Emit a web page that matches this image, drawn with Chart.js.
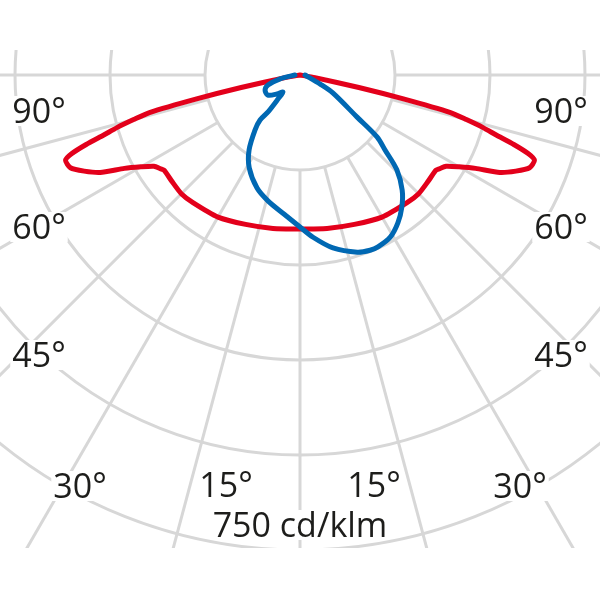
<!DOCTYPE html>
<html>
<head>
<meta charset="utf-8">
<script src="https://cdn.jsdelivr.net/npm/chart.js@4.4.1/dist/chart.umd.min.js"></script>
<style>
html, body { margin: 0; padding: 0; background: #fff; }
#wrap { width: 600px; height: 600px; }
</style>
</head>
<body>
<div id="wrap"><canvas id="polarChart" width="600" height="600"></canvas></div>
<script>
// rings and spokes of the polar grid (cd/klm, degrees from nadir)
const ringValues = [150, 300, 450, 600, 750];
const spokeAngles = [-90, -75, -60, -45, -30, -15, 0, 15, 30, 45, 60, 75, 90];

// C0-C180 plane (red), symmetric
const redAngles = [-90, -80, -78, -77, -76, -75, -74, -73, -72, -71, -70, -68, -66, -64, -62, -60, -58, -56, -55, -50, -45, -40, -30, -20, -10,
  0, 10, 20, 30, 40, 45, 50, 55, 56, 58, 60, 62, 64, 66, 68, 70, 71, 72, 73, 74, 75, 76, 77, 78, 80, 90];
const redValues = [0, 24, 95, 166, 245, 272, 300, 324, 355, 381, 394, 391, 373, 351, 314, 290, 272, 265, 262, 263, 265, 263, 259, 251, 246,
  243, 246, 251, 259, 263, 265, 263, 262, 265, 272, 290, 314, 351, 373, 391, 394, 381, 355, 324, 300, 272, 245, 166, 95, 24, 0];

// C90-C270 plane (blue)
const blueAngles = [-90, -79, -72.6, -66.8, -58, -50.4, -45, -42.5, -40.9, -41.6, -39.3, -34.2, -28.7, -20.8, -14.3, -6.6,
  0, 4.6, 10.8, 17.9, 21.8, 24.4, 29.1, 33.5, 37.7, 41.6, 45.6, 48.6, 51.2, 53.6, 61.4, 65.8, 90];
const blueValues = [8, 32, 53, 60, 60, 47, 38, 51, 77, 95, 112, 143, 167, 191, 205, 221,
  240, 257, 278, 294, 298, 298, 293, 280, 263, 243, 214, 179, 156, 112, 59, 35, 8];

const angleLabels = ['90°', '60°', '45°', '30°', '15°'];
const unitLabel = '750 cd/klm';

function toXY(angles, values) {
  return angles.map((a, i) => {
    const rad = a * Math.PI / 180;
    return { x: values[i] * Math.sin(rad), y: -values[i] * Math.cos(rad) };
  });
}

const polarGrid = {
  id: 'polarGrid',
  beforeDatasetsDraw(chart) {
    const { ctx, chartArea, scales: { x, y } } = chart;
    const cx = x.getPixelForValue(0);
    const cy = y.getPixelForValue(0);
    const k = x.getPixelForValue(1) - cx;
    ctx.save();
    ctx.beginPath();
    ctx.rect(chartArea.left, chartArea.top, chartArea.width, chartArea.height);
    ctx.clip();
    ctx.strokeStyle = '#d7d7d7';
    ctx.lineWidth = 3;
    ringValues.forEach(v => {
      ctx.beginPath();
      ctx.arc(cx, cy, v * k, 0, Math.PI * 2);
      ctx.stroke();
    });
    spokeAngles.forEach(a => {
      const rad = a * Math.PI / 180;
      const r0 = ringValues[0], r1 = 2000;
      ctx.beginPath();
      ctx.moveTo(x.getPixelForValue(r0 * Math.sin(rad)), y.getPixelForValue(-r0 * Math.cos(rad)));
      ctx.lineTo(x.getPixelForValue(r1 * Math.sin(rad)), y.getPixelForValue(-r1 * Math.cos(rad)));
      ctx.stroke();
    });
    ctx.restore();
  },
  afterDatasetsDraw(chart) {
    const { ctx, scales: { x, y } } = chart;
    const cx = x.getPixelForValue(0);
    const cy = y.getPixelForValue(0);
    // label spots: offset from the pole in px, baseline
    const spots = [[261, 48], [261, 164], [261, 292], [220, 423], [74, 422]];
    const items = [];
    angleLabels.forEach((t, i) => {
      items.push([t, cx - spots[i][0], cy + spots[i][1]]);
      items.push([t, cx + spots[i][0], cy + spots[i][1]]);
    });
    items.push([unitLabel, cx, cy + 462]);
    ctx.save();
    ctx.font = '34px "Open Sans"';
    ctx.textAlign = 'center';
    ctx.textBaseline = 'alphabetic';
    items.forEach(([t, px, py]) => {
      const w = ctx.measureText(t).width;
      ctx.fillStyle = '#fff';
      ctx.fillRect(px - w / 2 - 2, py - 27, w + 4, 30);
      ctx.fillStyle = '#1d1d1b';
      ctx.fillText(t, px, py);
    });
    ctx.restore();
  }
};

const chart = new Chart(document.getElementById('polarChart'), {
  type: 'scatter',
  data: {
    datasets: [{
      label: 'C0-C180',
      data: toXY(redAngles, redValues),
      showLine: true,
      borderColor: '#e3001b',
      borderWidth: 5,
      pointRadius: 0,
      tension: 0.2,
      borderJoinStyle: 'round',
      borderCapStyle: 'round',
      order: 2
    }, {
      label: 'C90-C270',
      data: toXY(blueAngles, blueValues),
      showLine: true,
      borderColor: '#0068b3',
      borderWidth: 5,
      pointRadius: 0,
      tension: 0.3,
      borderJoinStyle: 'round',
      borderCapStyle: 'round',
      order: 1
    }]
  },
  options: {
    responsive: false,
    animation: false,
    layout: { padding: { top: 50, bottom: 52, left: 0, right: 0 } },
    plugins: { legend: { display: false }, tooltip: { enabled: false } },
    scales: {
      x: { type: 'linear', display: false, min: -473.7, max: 473.7 },
      y: { type: 'linear', display: false, min: -746.8, max: 39.5 }
    }
  },
  plugins: [polarGrid]
});
</script>
</body>
</html>
